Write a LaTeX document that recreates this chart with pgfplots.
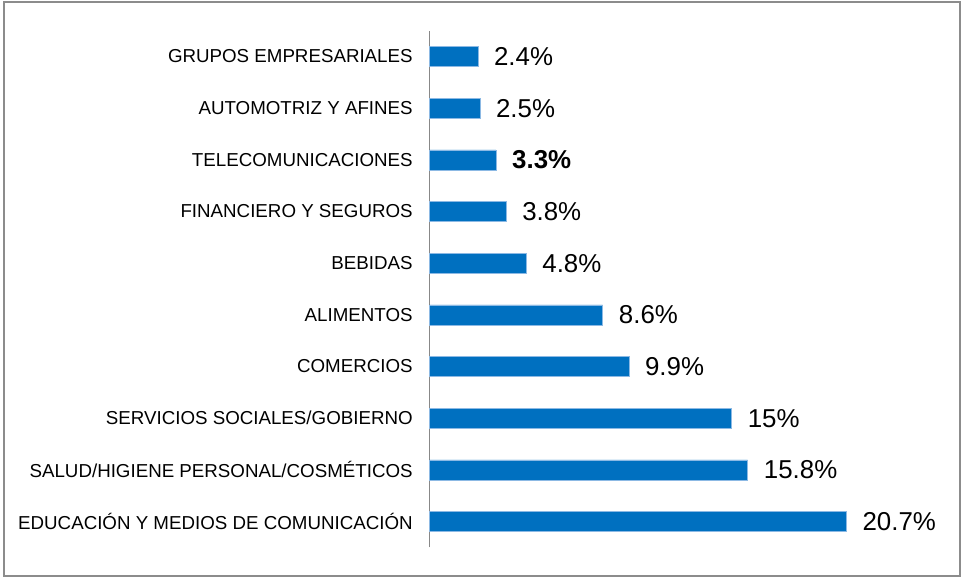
\documentclass[border=0pt]{standalone}
\usepackage{fontspec}
\setmainfont{Liberation Sans}
\usepackage{pgfplots}
\pgfplotsset{compat=1.18}
\definecolor{barblue}{RGB}{0,112,192}
\definecolor{baredge}{RGB}{140,185,228}
\definecolor{framegray}{RGB}{140,140,140}
\definecolor{axisgray}{RGB}{136,136,136}
\begin{document}
\begin{tikzpicture}
\useasboundingbox (0,0) rectangle (722.25pt,433.5pt);
\draw[framegray, line width=1.4pt] (3pt,1.3pt) rectangle (720pt,432pt);
\begin{axis}[at={(322.1pt,23.0pt)}, anchor=south west,
  scale only axis, width=377.6pt, height=387.5pt,
  xbar, bar width=15pt,
  xmin=0, xmax=25, ymin=0.5, ymax=10.5,
  axis x line=none, axis y line*=left,
  y axis line style={axisgray, line width=1.1pt, -},
  ytick={1,...,10}, major tick length=0pt,
  yticklabels={EDUCACIÓN Y MEDIOS DE COMUNICACIÓN,SALUD/HIGIENE PERSONAL/COSMÉTICOS,SERVICIOS SOCIALES/GOBIERNO,COMERCIOS,ALIMENTOS,BEBIDAS,FINANCIERO Y SEGUROS,TELECOMUNICACIONES,AUTOMOTRIZ Y AFINES,GRUPOS EMPRESARIALES},
  yticklabel style={font=\fontsize{14.05}{16}\selectfont, inner sep=0pt, xshift=-12.4pt},
  point meta=explicit symbolic,
  nodes near coords,
  every node near coord/.append style={font=\fontsize{19.4}{22}\selectfont, anchor=west, inner sep=0pt, xshift=12pt},
  clip=false]
\addplot[fill=barblue, draw=baredge, line width=0.4pt] coordinates {
  (20.7,1) [20.7\%]
  (15.8,2) [15.8\%]
  (15,3) [15\%]
  (9.9,4) [9.9\%]
  (8.6,5) [8.6\%]
  (4.8,6) [4.8\%]
  (3.8,7) [3.8\%]
  (3.3,8) [\textbf{3.3\%}]
  (2.5,9) [2.5\%]
  (2.4,10) [2.4\%]
};
\end{axis}
\end{tikzpicture}
\end{document}
